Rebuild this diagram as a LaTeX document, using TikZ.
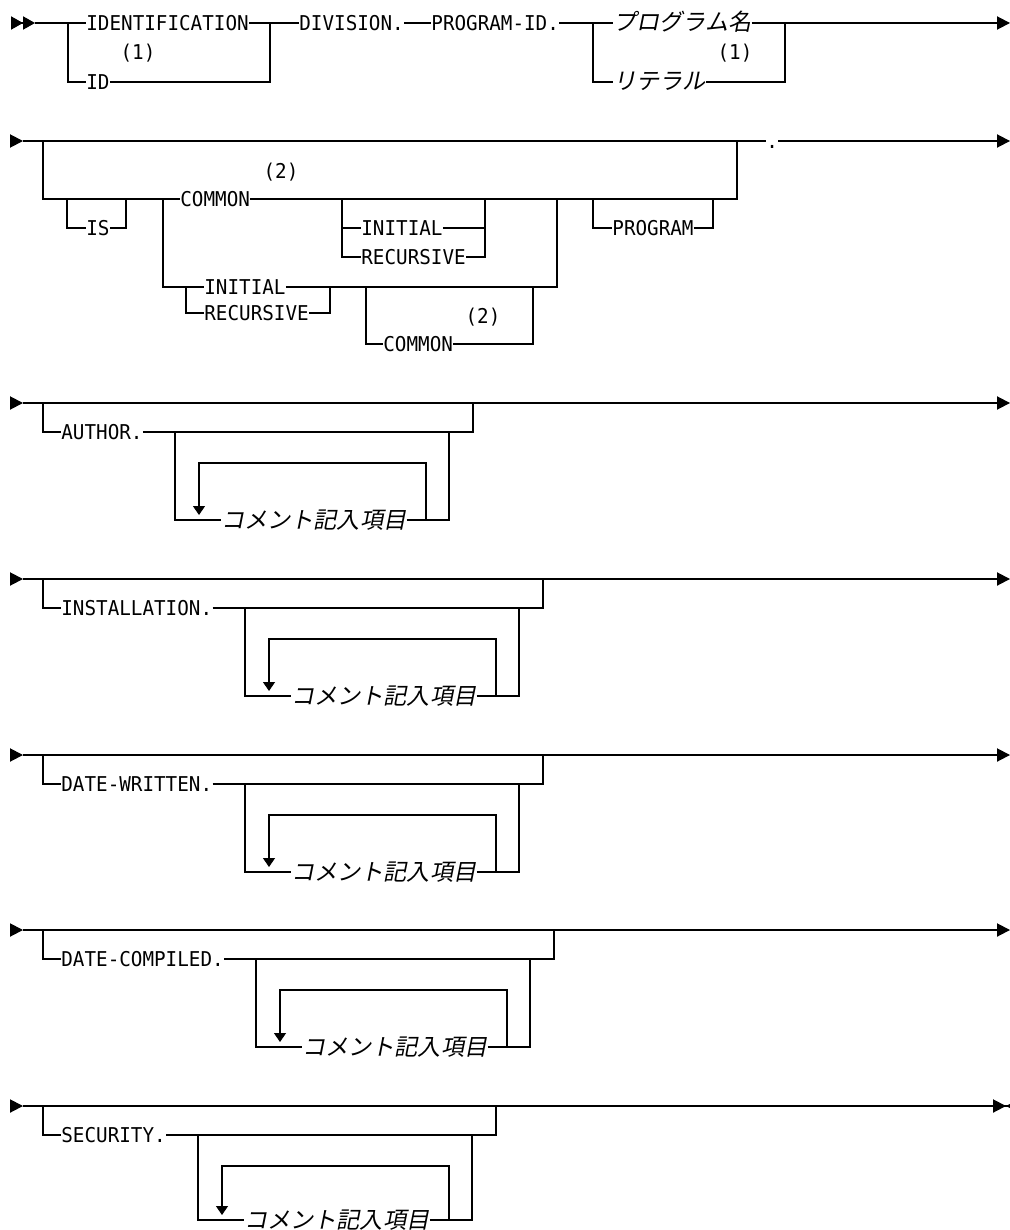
\documentclass[tikz,border=0pt]{standalone}
\usepackage{fontspec}
\usepackage{tikz}
\usetikzlibrary{arrows.meta}
\newfontfamily\kwfont[FakeStretch=0.944]{DejaVu Sans Mono}
\newfontfamily\jpfont[FakeSlant=0.2]{Noto Sans CJK JP}

\tikzset{
  kw/.style={anchor=west, inner sep=0pt, text height=7.4pt, text depth=0pt, font=\kwfont\fontsize{10.2}{12}\selectfont},
  jp/.style={anchor=west, inner sep=0pt, text height=8pt, text depth=0pt, font=\jpfont\fontsize{11.55}{13}\selectfont},
  fn/.style={inner sep=0pt, font=\kwfont\fontsize{10.2}{12}\selectfont},
  rail/.style={line width=0.65pt},
  railstart/.style={-{Triangle[length=6.5pt,width=6.6pt]}},
  railstart2/.style={-{Triangle[length=6pt,width=6.6pt,sep=0pt]Triangle[length=6pt,width=6.6pt]}},
  railend/.style={-{Triangle[length=6.5pt,width=6.6pt]}},
  railstop/.style={-{Triangle[length=6.5pt,width=6.6pt,sep=0pt]Triangle[length=6.5pt,width=6.6pt,reversed]}},
  railloop/.style={-{Triangle[length=4.5pt,width=6pt]}}
}

\begin{document}
\begin{tikzpicture}[x=0.5pt, y=-0.5pt]
\useasboundingbox (0,0) rectangle (1010,1230);

% IDENTIFICATION DIVISION. PROGRAM-ID.
\draw [rail,railstart2] (11,23) -- (35,23);
\node [kw] (idn) at (86,23) {IDENTIFICATION};
\node [kw] (idab) at (86,82) {ID};
\node [fn] (fnA) at (138,53) {(1)};
\node [kw] (div) at (299,23) {DIVISION.};
\node [kw] (pgmid) at (431,23) {PROGRAM-ID.};
\node [jp] (pname) at (613,23) {プログラム名};
\node [jp] (lit) at (613,82) {リテラル};
\node [fn] (fnB) at (735,53) {(1)};
\draw [rail] (35,23) -- (idn.west);
\draw [rail] (68,23) |- (idab.west);
\draw [rail] (idn.east) -- (div.west);
\draw [rail] (idab.east) -| (270,23);
\draw [rail] (div.east) -- (pgmid.west);
\draw [rail] (pgmid.east) -- (pname.west);
\draw [rail] (593,23) |- (lit.west);
\draw [rail] (lit.east) -| (785,23);
\draw [rail,railend] (pname.east) -- (1010,23);

% IS COMMON INITIAL RECURSIVE PROGRAM
\draw [rail,railstart] (10,141) -- (23,141);
\node [kw] (is) at (86,228) {IS};
\node [kw] (com1) at (180,199) {COMMON};
\node [fn] (fnC) at (281,172) {(2)};
\node [kw] (ini1) at (361,228) {INITIAL};
\node [kw] (rec1) at (361,257) {RECURSIVE};
\node [kw] (ini2) at (204,287) {INITIAL};
\node [kw] (rec2) at (204,313) {RECURSIVE};
\node [kw] (com2) at (383,344) {COMMON};
\node [fn] (fnD) at (483,317) {(2)};
\node [kw] (prog) at (612,228) {PROGRAM};
\node [kw] (dot) at (766,141) {.};
\draw [rail] (23,141) -- (dot.west);
\draw [rail,railend] (dot.east) -- (1010,141);
\draw [rail] (43,141) |- (com1.west);
\draw [rail] (67,199) |- (is.west);
\draw [rail] (is.east) -| (126,199);
\draw [rail] (com1.east) -| (737,141);
\draw [rail] (342,199) |- (rec1.west);
\draw [rail] (342,228) -- (ini1.west);
\draw [rail] (ini1.east) -- (485,228);
\draw [rail] (rec1.east) -| (485,199);
\draw [rail] (163,199) |- (ini2.west);
\draw [rail] (186,287) |- (rec2.west);
\draw [rail] (rec2.east) -| (330,287);
\draw [rail] (ini2.east) -| (557,199);
\draw [rail] (366,287) |- (com2.west);
\draw [rail] (com2.east) -| (533,287);
\draw [rail] (593,199) |- (prog.west);
\draw [rail] (prog.east) -| (713,199);

% AUTHOR.
\draw [rail,railstart] (10,403) -- (23,403);
\draw [rail,railend] (23,403) -- (1010,403);
\node [kw] (auth) at (61,432) {AUTHOR.};
\node [jp] (cmA) at (221,520) {コメント記入項目};
\draw [rail] (43,403) |- (auth.west);
\draw [rail] (auth.east) -| (473,403);
\draw [rail] (175,432) |- (cmA.west);
\draw [rail] (cmA.east) -| (449,432);
\draw [rail,railloop] (426,520) |- (199,463) -- (199,515);

% INSTALLATION.
\draw [rail,railstart] (10,579) -- (23,579);
\draw [rail,railend] (23,579) -- (1010,579);
\node [kw] (inst) at (61,608) {INSTALLATION.};
\node [jp] (cmB) at (291,696) {コメント記入項目};
\draw [rail] (43,579) |- (inst.west);
\draw [rail] (inst.east) -| (543,579);
\draw [rail] (245,608) |- (cmB.west);
\draw [rail] (cmB.east) -| (519,608);
\draw [rail,railloop] (496,696) |- (269,639) -- (269,691);

% DATE-WRITTEN.
\draw [rail,railstart] (10,755) -- (23,755);
\draw [rail,railend] (23,755) -- (1010,755);
\node [kw] (dwr) at (61,784) {DATE-WRITTEN.};
\node [jp] (cmC) at (291,872) {コメント記入項目};
\draw [rail] (43,755) |- (dwr.west);
\draw [rail] (dwr.east) -| (543,755);
\draw [rail] (245,784) |- (cmC.west);
\draw [rail] (cmC.east) -| (519,784);
\draw [rail,railloop] (496,872) |- (269,815) -- (269,867);

% DATE-COMPILED.
\draw [rail,railstart] (10,930) -- (23,930);
\draw [rail,railend] (23,930) -- (1010,930);
\node [kw] (dcp) at (61,959) {DATE-COMPILED.};
\node [jp] (cmD) at (302,1047) {コメント記入項目};
\draw [rail] (43,930) |- (dcp.west);
\draw [rail] (dcp.east) -| (554,930);
\draw [rail] (256,959) |- (cmD.west);
\draw [rail] (cmD.east) -| (530,959);
\draw [rail,railloop] (507,1047) |- (280,990) -- (280,1042);

% SECURITY.
\draw [rail,railstart] (10,1106) -- (23,1106);
\draw [rail,railstop] (23,1106) -- (1019,1106);
\node [kw] (sec) at (61,1135) {SECURITY.};
\node [jp] (cmE) at (244,1220) {コメント記入項目};
\draw [rail] (43,1106) |- (sec.west);
\draw [rail] (sec.east) -| (496,1106);
\draw [rail] (198,1135) |- (cmE.west);
\draw [rail] (cmE.east) -| (472,1135);
\draw [rail,railloop] (449,1220) |- (222,1166) -- (222,1215);
\end{tikzpicture}
\end{document}
